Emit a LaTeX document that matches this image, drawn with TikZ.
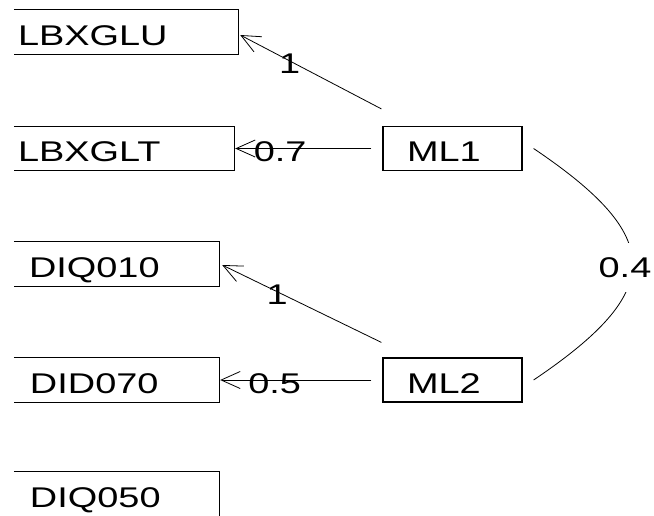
\documentclass[tikz,border=0pt]{standalone}
\usepackage{fontspec}
\setmainfont[FakeStretch=1.33]{Liberation Sans}
\usetikzlibrary{arrows.meta,calc}
\begin{document}
\begin{tikzpicture}[x=1pt,y=-1pt,
  every node/.style={font=\fontsize{28.5}{30}\selectfont},
  varbox/.style={rectangle, minimum height=44pt, text height=26pt, text depth=0pt, inner ysep=0pt, align=left},
  boxline/.style={line width=1.2pt},
  facbox/.style={rectangle, draw, line width=1.2pt, minimum height=44pt, text height=26pt, text depth=0pt, inner ysep=0pt, inner xsep=24pt, text width=91pt, align=left},
  arr/.style={line width=0.8pt, -{Straight Barb[length=19pt,width=17pt,line width=0.8pt]}},
  lbl/.style={inner sep=0pt, text height=26pt, text depth=0pt},
]
\useasboundingbox (0,0) rectangle (654,515);
% observed variables (left edge not drawn)
\node[varbox, inner xsep=4pt, text width=216pt] (LBXGLU) at (126,32) {LBXGLU};
\node[varbox, inner xsep=4pt, text width=212pt] (LBXGLT) at (124,148.5) {LBXGLT};
\node[varbox, inner xsep=15pt, text width=175pt] (DIQ010) at (116.5,264) {DIQ010};
\node[varbox, inner xsep=16pt, text width=173pt] (DID070) at (116.5,380) {DID070};
\node[varbox, inner xsep=16pt, text width=173pt] (DIQ050) at (116.5,494) {DIQ050};
\foreach \n in {LBXGLU,LBXGLT,DIQ010,DID070,DIQ050}
  \draw[boxline] (\n.north west) -- (\n.north east) -- (\n.south east) -- (\n.south west);
% factors
\node[facbox] (ML1) at (452.5,148.5) {ML1};
\node[facbox] (ML2) at (452.5,380) {ML2};
% connector start points
\coordinate (s1) at ($(ML1.north west)+(-1,-17)$);
\coordinate (s2) at ($(ML1.west)+(-11,0)$);
\coordinate (s3) at ($(ML2.north west)+(-1,-15)$);
\coordinate (s4) at ($(ML2.west)+(-11,0)$);
\draw[arr] (s1) -- ($(LBXGLU.east)+(2,3)$) node[lbl, pos=0.65] (w1) {1};
\draw[arr] (s2) -- ($(LBXGLT.east)+(1,0)$) node[lbl, pos=0.67] (w2) {0.7};
\draw[arr] (s3) -- ($(DIQ010.east)+(3,1)$) node[lbl, pos=0.655] (w3) {1};
\draw[arr] (s4) -- ($(DID070.east)+(1,0)$) node[lbl, pos=0.64] (w4) {0.5};
% correlation curve
\coordinate (c1) at ($(ML1.east)+(11,0)$);
\coordinate (c2) at ($(ML2.east)+(11,0)$);
\draw[line width=0.8pt] (c1) .. controls ($(c1)+(132,89)$) and ($(c2)+(132,-89)$) .. (c2);
\node[fill=white, inner xsep=8pt, inner ysep=14pt] (r12) at (625,267.5) {0.4};
\end{tikzpicture}
\end{document}
